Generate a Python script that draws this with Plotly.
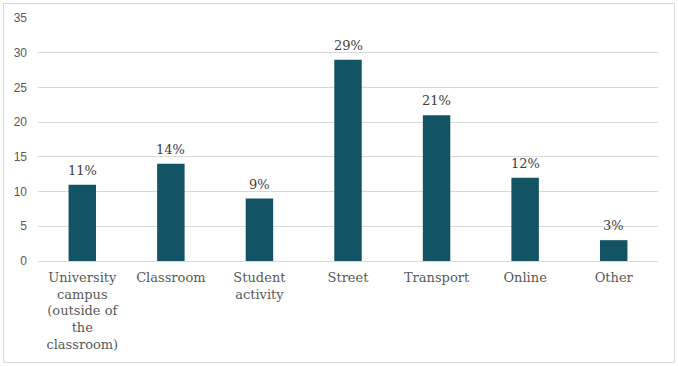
import plotly.graph_objects as go

categories = ["University<br>campus<br>(outside of<br>the<br>classroom)", "Classroom", "Student<br>activity",
              "Street", "Transport", "Online", "Other"]
values = [11, 14, 9, 29, 21, 12, 3]
labels = [f"{v}%" for v in values]
y_ticks = [0, 5, 10, 15, 20, 25, 30, 35]

W, H = 678, 366
L, R, T, B = 38, 20, 18, 105

fig = go.Figure()
fig.add_trace(go.Bar(
    x=categories, y=values,
    marker=dict(color="#135464", line=dict(width=0)),
    width=0.31,
    cliponaxis=False,
))

for c, v, t in zip(categories, values, labels):
    fig.add_annotation(x=c, y=v, text=t, showarrow=False, yanchor="bottom", yshift=5,
                       font=dict(family="DejaVu Serif", size=13, color="#404040"))

pw = W - L - R
ph = H - T - B
fig.add_shape(type="rect", xref="paper", yref="paper",
              x0=(3.5 - L) / pw, x1=(674.5 - L) / pw,
              y0=(H - B - 362.5) / ph, y1=(H - B - 3.5) / ph,
              line=dict(color="#d9d9d9", width=1), fillcolor="rgba(0,0,0,0)", layer="below")

fig.update_layout(
    width=W, height=H,
    margin=dict(l=L, r=R, t=T, b=B, pad=0),
    paper_bgcolor="white", plot_bgcolor="white",
    showlegend=False,
    xaxis=dict(
        tickfont=dict(family="DejaVu Serif", size=13, color="#595959"),
        showgrid=False, showline=True, linecolor="#d9d9d9", linewidth=1,
        ticks="", tickangle=0, fixedrange=True, automargin=False,
        ticklabelstandoff=4,
    ),
    yaxis=dict(
        range=[0, 35], tickvals=y_ticks,
        tickfont=dict(family="Liberation Sans", size=12, color="#595959"),
        showgrid=True, gridcolor="#d9d9d9", gridwidth=1,
        zeroline=False, showline=False, ticks="",
        ticklabelstandoff=10, automargin=False, fixedrange=True,
    ),
)

fig.write_html("out.html", config={"displayModeBar": False},
               post_script="document.body.style.margin='0';document.body.style.overflow='hidden';")
